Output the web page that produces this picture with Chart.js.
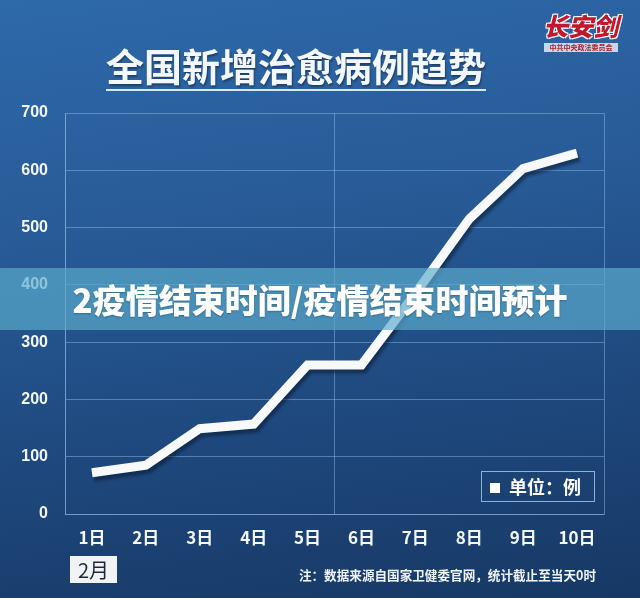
<!DOCTYPE html>
<html>
<head>
<meta charset="utf-8">
<script src="https://cdn.jsdelivr.net/npm/chart.js@4"></script>
<style>
  html, body { margin: 0; padding: 0; }
  body { width: 640px; height: 598px; overflow: hidden; }
  #wrap {
    position: relative; width: 640px; height: 598px;
    background: linear-gradient(172deg, #2e69aa 0%, #285b97 35%, #1f4a80 65%, #173864 100%);
    font-family: "Noto Sans CJK SC", "Noto Sans", sans-serif;
  }
  #chart { position: absolute; left: 0; top: 0; }
  .abs { position: absolute; white-space: nowrap; }
  #title {
    left: 106px; top: 42px; font-size: 38px; font-weight: 700; color: #f4f8fc;
    line-height: 46px; padding-bottom: 1px; border-bottom: 2px solid #d5e8f5;
    text-shadow: 1px 2px 2px rgba(0,0,0,0.35);
  }
  #logo { left: 543px; top: 8px; font-size: 25px; font-weight: 900; color: #c0182c; font-style: italic;
    text-shadow: -1px -1px 0 #fff, 1px -1px 0 #fff, -1px 1px 0 #fff, 1px 1px 0 #fff; line-height: 34px; }
  #logosub { left: 544px; top: 43px; width: 74px; height: 9px; font-size: 7px; line-height: 9px; color: #b0202c;
    background: rgba(230,235,245,0.85); text-align: center; font-weight: 700; overflow: hidden; }
  #unit { left: 481px; top: 471px; width: 112px; height: 29px; border: 1px solid rgba(150,205,230,0.85);
    color: #fff; font-size: 18px; font-weight: 700; line-height: 29px; }
  #unit span.sq { display: inline-block; width: 10px; height: 10px; background: #fff; margin: 0 9px 0 8px; vertical-align: 1px; }
  #month { left: 70px; top: 556px; width: 47px; height: 27px; background: #f1f3f5; color: #1b2838;
    font-size: 20px; line-height: 27px; text-align: center; }
  #note { right: 44px; top: 566px; font-size: 12.6px; font-weight: 700; color: #f0f4f8; line-height: 18px; }
  #banner { left: 0; top: 268px; width: 640px; height: 62px; background: rgba(92,172,205,0.68);
    color: #fff; font-size: 33px; font-weight: 900; line-height: 62px; text-align: center;
    text-shadow: 0 1px 2px rgba(0,0,0,0.25); }
</style>
</head>
<body>
<div id="wrap">
  <canvas id="chart" width="640" height="598"></canvas>
  <div class="abs" id="title">全国新增治愈病例趋势</div>
  <div class="abs" id="logo">长安剑</div>
  <div class="abs" id="logosub">中共中央政法委员会</div>
  <div class="abs" id="unit"><span class="sq"></span>单位：例</div>
  <div class="abs" id="month">2月</div>
  <div class="abs" id="note">注：数据来源自国家卫健委官网，统计截止至当天0时</div>
  <div class="abs" id="banner">2疫情结束时间/疫情结束时间预计</div>
</div>
<script>
// data
const days = ['1日', '2日', '3日', '4日', '5日', '6日', '7日', '8日', '9日', '10日'];
const cured = [72, 85, 149, 157, 260, 260, 385, 515, 603, 630];
const yTicks = [0, 100, 200, 300, 400, 500, 600, 700];

const gridColor = 'rgba(150, 195, 235, 0.45)';

// soft shadow under the white line to give the ribbon look
const lineShadow = {
  id: 'lineShadow',
  beforeDatasetDraw(chart) {
    const c = chart.ctx;
    c.save();
    c.shadowColor = 'rgba(10, 25, 50, 0.55)';
    c.shadowBlur = 3;
    c.shadowOffsetX = 2;
    c.shadowOffsetY = 4;
  },
  afterDatasetDraw(chart) {
    chart.ctx.restore();
  }
};

new Chart(document.getElementById('chart'), {
  type: 'line',
  data: {
    labels: days,
    datasets: [{
      data: cured,
      borderColor: '#f7f9fb',
      borderWidth: 9,
      borderJoinStyle: 'miter',
      borderCapStyle: 'butt',
      pointRadius: 0,
      tension: 0,
      fill: false
    }]
  },
  options: {
    responsive: false,
    animation: false,
    devicePixelRatio: 1,
    layout: { padding: { top: 113, right: 36, left: 0, bottom: 0 } },
    plugins: { legend: { display: false }, tooltip: { enabled: false } },
    scales: {
      x: {
        offset: true,
        afterFit(scale) { scale.height = 84; },
        grid: {
          offset: true,
          drawTicks: false,
          color: c => (c.index === undefined || c.index === 0 || c.index === 5 || c.index === 10) ? gridColor : 'rgba(0,0,0,0)'
        },
        border: { display: true, color: gridColor },
        ticks: {
          color: '#f4f8fc',
          padding: 13,
          font: { family: '"Noto Sans CJK SC"', size: 17, weight: 'bold' }
        }
      },
      y: {
        min: 0,
        max: 700,
        afterFit(scale) { scale.width = 65; },
        afterBuildTicks(scale) { scale.ticks = yTicks.map(v => ({ value: v })); },
        grid: { color: gridColor, drawTicks: false },
        border: { display: true, color: gridColor },
        ticks: {
          color: '#f4f8fc',
          padding: 17,
          font: { family: '"Liberation Sans", Arial, sans-serif', size: 16, weight: 'bold' }
        }
      }
    }
  },
  plugins: [lineShadow]
});
</script>
</body>
</html>
